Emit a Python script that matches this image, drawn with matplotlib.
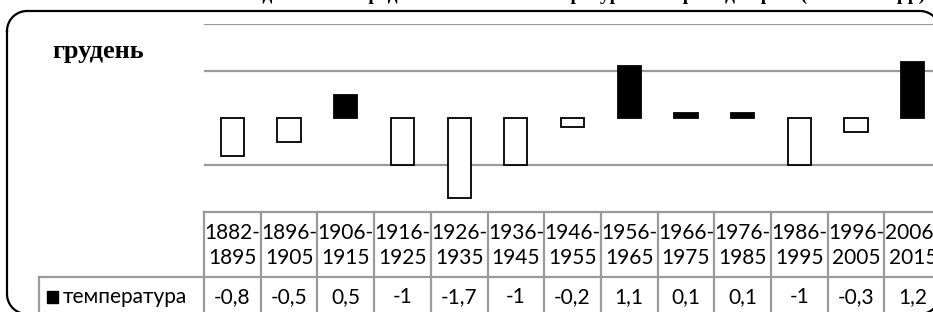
import numpy as np
import matplotlib
matplotlib.use("Agg")
import matplotlib.pyplot as plt
from matplotlib.patches import Rectangle
from matplotlib.transforms import blended_transform_factory

periods = ["1882-\n1895", "1896-\n1905", "1906-\n1915", "1916-\n1925", "1926-\n1935",
           "1936-\n1945", "1946-\n1955", "1956-\n1965", "1966-\n1975", "1976-\n1985",
           "1986-\n1995", "1996-\n2005", "2006-\n2015"]
temps = [-0.8, -0.5, 0.5, -1, -1.7, -1, -0.2, 1.1, 0.1, 0.1, -1, -0.3, 1.2]
series_name = "температура"
month = "грудень"
title = "Відхилення середньої місячної температури повітря від норми (1882-2015 рр)"

W, H = 933, 312
GRID = "#9a9a9a"
TFONT = ["Lato", "DejaVu Sans"]


def fx(px):
    return np.asarray(px) / W


def fy(py):
    return 1 - np.asarray(py) / H


fig = plt.figure(figsize=(W / 100, H / 100), dpi=100)

# rounded chart border (pixel coords, y down)
L, T, R, B, r = 7, 11, 940, 314, 20
t = np.linspace(0, np.pi / 2, 20)
bx = np.concatenate([L + r - r * np.cos(t), R - r + r * np.sin(t),
                     R - r + r * np.cos(t), L + r - r * np.sin(t), [L]])
by = np.concatenate([T + r - r * np.sin(t), T + r - r * np.cos(t),
                     B - r + r * np.sin(t), B - r + r * np.cos(t), [T + r]])
fig.add_artist(plt.Line2D(fx(bx), fy(by), color="black", lw=1.6))

# chart title sits above the crop, only its descenders show
fig.text(fx(925), fy(0), title, ha="right", va="baseline", fontsize=14,
         fontweight="bold", family="Liberation Serif")
fig.text(fx(52), fy(58), month, ha="left", va="baseline", fontsize=19,
         fontweight="bold", family="Liberation Serif")

colw = 56.7
ax = fig.add_axes([fx(204), fy(212), fx(13 * colw), (212 - 24) / H])
ax.set_xlim(-0.5, 12.5)
ax.set_ylim(-2, 2)
for s in ax.spines.values():
    s.set_visible(False)
ax.set_xticks([]); ax.set_yticks([])
for g in (2, 1, -1):
    ax.axhline(g, color=GRID, lw=1.6, zorder=0)

x = list(range(len(temps)))
ax.bar(x, temps, width=0.41, color=["black" if v > 0 else "white" for v in temps],
       edgecolor="black", lw=1.3, zorder=3)

# data table
tr = blended_transform_factory(ax.transData, ax.transAxes)
ph = 212 - 24
r1 = -(277 - 212) / ph
r2 = -(330 - 212) / ph
ax.plot([-0.5, 12.5], [0, 0], transform=tr, color=GRID, lw=1.6, clip_on=False)
ax.plot([-0.5, 12.5], [r1, r1], transform=tr, color=GRID, lw=1.6, clip_on=False)
for i in range(len(temps) + 1):
    ax.plot([i - 0.5, i - 0.5], [0, r2], transform=tr, color=GRID, lw=1.6, clip_on=False)
for i, (p, v) in enumerate(zip(periods, temps)):
    a, b = p.split("\n")
    ax.text(i, -(233 - 212) / ph, a, transform=tr, ha="center", va="center",
            fontsize=15, family=TFONT, clip_on=False)
    ax.text(i, -(258 - 212) / ph, b, transform=tr, ha="center", va="center",
            fontsize=15, family=TFONT, clip_on=False)
    ax.text(i, -(297 - 212) / ph, f"{v:g}".replace(".", ","), transform=tr,
            ha="center", va="center", fontsize=15, family=TFONT, clip_on=False)

# row label cell
fig.add_artist(plt.Line2D(fx([39, 204]), fy([277, 277]), color=GRID, lw=1.6))
fig.add_artist(plt.Line2D(fx([39, 39]), fy([277, 330]), color=GRID, lw=1.6))
fig.patches.append(Rectangle((fx(47), fy(303)), fx(11), 12 / H, transform=fig.transFigure,
                             color="black"))
fig.text(fx(63), fy(297), series_name, ha="left", va="center", fontsize=15, family=TFONT)

fig.savefig("out.png", dpi=100)
